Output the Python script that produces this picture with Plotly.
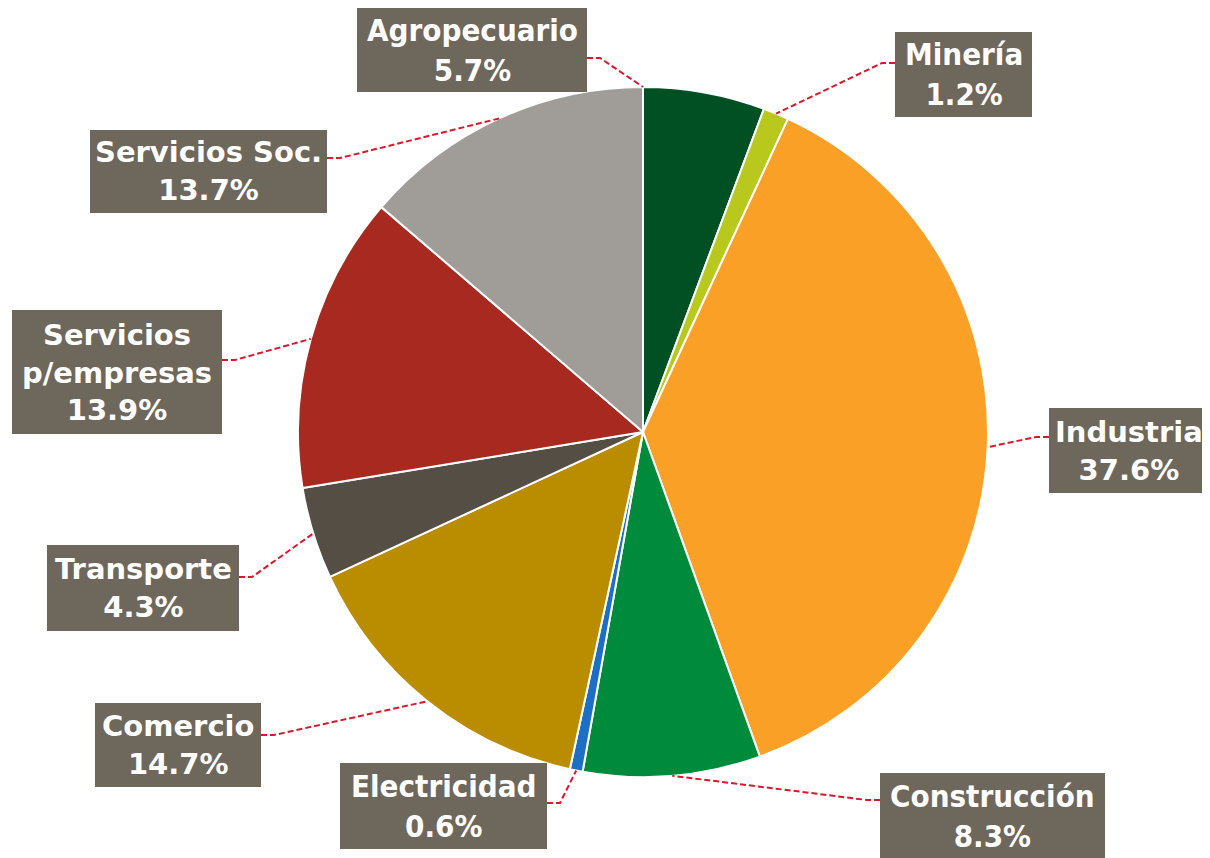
import math
import plotly.graph_objects as go

# ---- data ----
sectors = ["Agropecuario", "Minería", "Industria", "Construcción", "Electricidad",
           "Comercio", "Transporte", "Servicios p/empresas", "Servicios Soc."]
label_text = ["Agropecuario", "Minería", "Industria", "Construcción", "Electricidad",
              "Comercio", "Transporte", "Servicios<br>p/empresas", "Servicios Soc."]
shares = [5.7, 1.2, 37.6, 8.3, 0.6, 14.7, 4.3, 13.9, 13.7]
colors = ["#005024", "#b8c81c", "#fba026", "#008a3b", "#1d6fc4",
          "#ba8c00", "#554e45", "#a8291f", "#a09c97"]

W, H = 1210, 858
OFF = 8  # page body margin offset
CX, CY, R = 643 - OFF, 432 - OFF, 345

# label boxes (pixel layout in screenshot coords): x0, y0, x1, y1, side
boxes = [
    (357, 7, 587, 92, "R"),
    (895, 32, 1032, 117, "L"),
    (1049, 408, 1208, 493, "L"),
    (880, 773, 1105, 858, "L"),
    (340, 763, 547, 849, "R"),
    (95, 703, 261, 787, "R"),
    (47, 545, 239, 631, "R"),
    (12, 310, 222, 434, "R"),
    (90, 130, 327, 213, "R"),
]
attach_y = [58, 63, 437, 800, 803, 735, 577, 360, 158]
anchor_frac = [0.0, 0.5, 0.5, 0.5, 0.5, 0.5, 0.5, 0.5, 0.5]
condensed = [True, True, False, True, True, False, False, False, False]

fig = go.Figure(go.Pie(
    labels=sectors, values=shares, sort=False, direction="clockwise", rotation=0,
    marker=dict(colors=colors, line=dict(color="white", width=2)),
    textinfo="none", hoverinfo="label+percent", showlegend=False,
    domain=dict(x=[(CX - R) / W, (CX + R) / W], y=[1 - (CY + R) / H, 1 - (CY - R) / H]),
))

def px(x):
    return x / W

def py(y):
    return 1 - y / H

total = sum(shares)
cum = 0.0
shapes = []
annotations = []
for i, v in enumerate(shares):
    frac = (cum + v * anchor_frac[i]) / total
    cum += v
    ang = 2 * math.pi * frac
    ax_ = CX + R * math.sin(ang)
    ay_ = CY - R * math.cos(ang)
    x0, y0, x1, y1, side = [b - OFF if isinstance(b, (int, float)) else b for b in boxes[i]]
    if side == "R":
        bx, ex = x1, x1 + 13
    else:
        bx, ex = x0, x0 - 13
    by = attach_y[i] - OFF
    path = f"M {px(bx)} {py(by)} L {px(ex)} {py(by)} L {px(ax_)} {py(ay_)}"
    shapes.append(dict(type="path", xref="paper", yref="paper", path=path,
                       line=dict(color="#d9182d", width=2, dash="6px,3px")))
    shapes.append(dict(type="rect", xref="paper", yref="paper",
                       x0=px(x0), x1=px(x1), y0=py(y1), y1=py(y0),
                       fillcolor="#6e675b", line=dict(width=0), layer="above"))
    if condensed[i]:
        fam, size = "DejaVu Sans Condensed, Liberation Sans Narrow, DejaVu Sans", 31
    else:
        fam, size = "DejaVu Sans, Verdana, sans-serif", 29
    annotations.append(dict(
        xref="paper", yref="paper", x=px((x0 + x1) / 2), y=py((y0 + y1) / 2),
        text=f"<b>{label_text[i]}<br>{v:.1f}%</b>", showarrow=False,
        font=dict(family=fam, size=size, color="white"), align="center",
        xanchor="center", yanchor="middle",
    ))

fig.update_layout(
    width=W, height=H, margin=dict(l=0, r=0, t=0, b=0),
    paper_bgcolor="white", plot_bgcolor="white",
    shapes=shapes, annotations=annotations,
)
fig.write_html("out.html")
